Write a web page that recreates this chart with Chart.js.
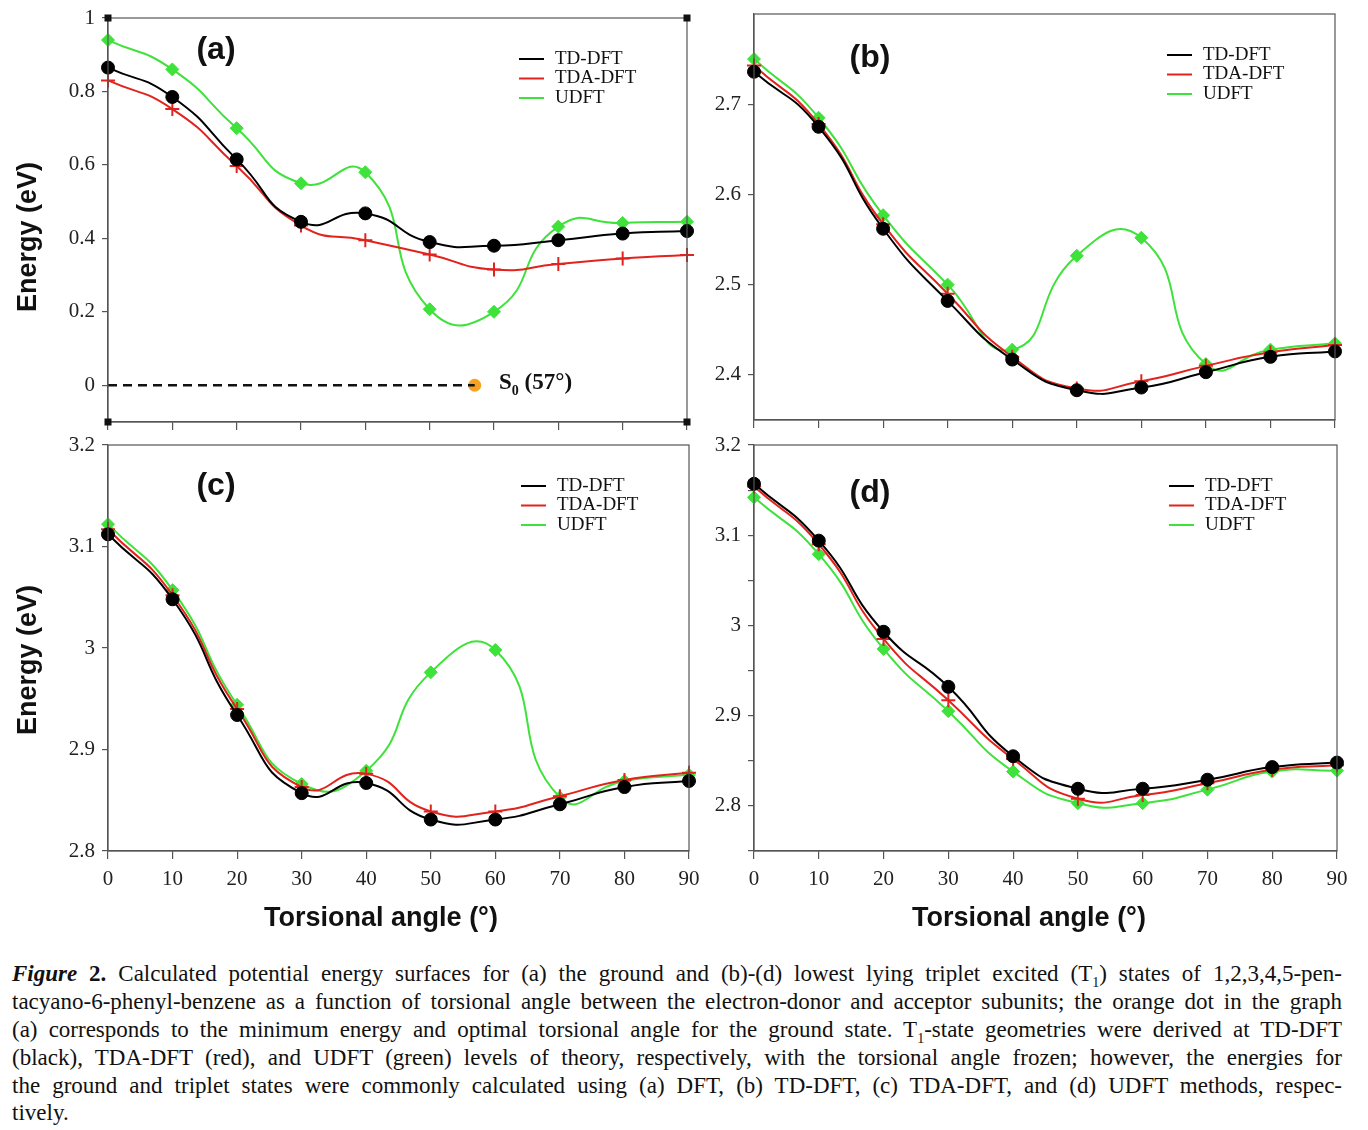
<!DOCTYPE html>
<html>
<head>
<meta charset="utf-8">
<script src="https://cdn.jsdelivr.net/npm/chart.js@4.4.1/dist/chart.umd.min.js"></script>
<style>
body{margin:0;background:#fff;width:1368px;height:1130px;position:relative;overflow:hidden}
canvas{position:absolute}
.t{position:absolute;font-family:"Liberation Sans",Arial,sans-serif;font-weight:bold;color:#111;white-space:nowrap;z-index:2}
.panel{font-size:32px;transform:translate(-50%,-50%)}
.ytitle{font-size:27px;transform:translate(-50%,-50%) rotate(-90deg)}
.xtitle{font-size:27px;transform:translate(-50%,-50%)}
.s0{position:absolute;left:499px;top:369px;font-family:"Liberation Serif","Times New Roman",serif;font-weight:bold;font-size:23px;color:#111;z-index:2}
.s0 sub{font-size:14px}
.cap{position:absolute;left:12px;width:1330px;font-family:"Liberation Serif","Times New Roman",serif;font-size:23px;line-height:28px;color:#111;text-align:justify;text-align-last:justify;white-space:nowrap}
.cap sub{font-size:14px;line-height:0}
</style>
</head>
<body>
<canvas id="ca" width="700" height="432" style="left:0;top:0"></canvas>
<canvas id="cb" width="668" height="432" style="left:700px;top:0"></canvas>
<canvas id="cc" width="700" height="510" style="left:0;top:432px"></canvas>
<canvas id="cd" width="668" height="510" style="left:700px;top:432px"></canvas>

<div class="t panel" style="left:216px;top:48px">(a)</div>
<div class="t panel" style="left:870px;top:56px">(b)</div>
<div class="t panel" style="left:216px;top:484px">(c)</div>
<div class="t panel" style="left:870px;top:491px">(d)</div>
<div class="t ytitle" style="left:27px;top:237px">Energy (eV)</div>
<div class="t ytitle" style="left:27px;top:660px">Energy (eV)</div>
<div class="t xtitle" style="left:381px;top:917px">Torsional angle (°)</div>
<div class="t xtitle" style="left:1029px;top:917px">Torsional angle (°)</div>
<div class="s0">S<sub>0</sub> (57°)</div>

<div class="cap" style="top:960px"><b><i>Figure</i> 2.</b> Calculated potential energy surfaces for (a) the ground and (b)-(d) lowest lying triplet excited (T<sub>1</sub>) states of 1,2,3,4,5-pen-</div>
<div class="cap" style="top:988px">tacyano-6-phenyl-benzene as a function of torsional angle between the electron-donor and acceptor subunits; the orange dot in the graph</div>
<div class="cap" style="top:1016px">(a) corresponds to the minimum energy and optimal torsional angle for the ground state. T<sub>1</sub>-state geometries were derived at TD-DFT</div>
<div class="cap" style="top:1044px">(black), TDA-DFT (red), and UDFT (green) levels of theory, respectively, with the torsional angle frozen; however, the energies for</div>
<div class="cap" style="top:1072px">the ground and triplet states were commonly calculated using (a) DFT, (b) TD-DFT, (c) TDA-DFT, and (d) UDFT methods, respec-</div>
<div class="cap" style="top:1099px;text-align-last:left">tively.</div>

<script>
// torsional angles (deg)
const angles = [0, 10, 20, 30, 40, 50, 60, 70, 80, 90];
const seriesNames = ['TD-DFT', 'TDA-DFT', 'UDFT'];

// (a) ground state, DFT
const aTD  = [0.865, 0.785, 0.615, 0.445, 0.468, 0.390, 0.380, 0.395, 0.413, 0.420];
const aTDA = [0.830, 0.752, 0.597, 0.435, 0.395, 0.356, 0.315, 0.330, 0.345, 0.355];
const aU   = [0.940, 0.860, 0.700, 0.550, 0.580, 0.207, 0.200, 0.432, 0.442, 0.445];
const groundAngle = [0, 57];
const groundEnergy = [0, 0];

// (b) TD-DFT
const bTD  = [2.736, 2.675, 2.562, 2.482, 2.417, 2.383, 2.386, 2.403, 2.420, 2.426];
const bTDA = [2.743, 2.678, 2.567, 2.490, 2.420, 2.385, 2.393, 2.410, 2.425, 2.433];
const bU   = [2.750, 2.685, 2.577, 2.500, 2.428, 2.532, 2.552, 2.412, 2.428, 2.435];

// (c) TDA-DFT
const cTD  = [3.112, 3.048, 2.934, 2.857, 2.867, 2.831, 2.831, 2.846, 2.863, 2.869];
const cTDA = [3.117, 3.052, 2.940, 2.863, 2.876, 2.839, 2.839, 2.854, 2.870, 2.877];
const cU   = [3.122, 3.057, 2.944, 2.866, 2.879, 2.976, 2.998, 2.853, 2.869, 2.875];

// (d) UDFT
const dTD  = [3.157, 3.094, 2.993, 2.932, 2.855, 2.819, 2.819, 2.829, 2.843, 2.848];
const dTDA = [3.154, 3.090, 2.985, 2.917, 2.852, 2.808, 2.812, 2.825, 2.840, 2.845];
const dU   = [3.142, 3.079, 2.974, 2.905, 2.838, 2.803, 2.803, 2.818, 2.838, 2.839];

// tick values
const xTicks = angles;
const yTicksA = [0, 0.2, 0.4, 0.6, 0.8, 1];
const yTicksB = [2.4, 2.5, 2.6, 2.7];
const yTicksC = [2.8, 2.9, 3, 3.1, 3.2];
const yTicksD = [2.8, 2.9, 3, 3.1, 3.2];
const yMinorD = [2.75, 2.85, 2.95, 3.05, 3.15];

const colors = ['#000000', '#e2231d', '#3ee23a'];
const AXIS = '#555555';

const xy = (xs, ys) => xs.map((x, i) => ({x: x, y: ys[i]}));

function series(vals) {
  const styles = [
    {pointStyle: 'circle', pointRadius: 6.5, pointBorderWidth: 1},
    {pointStyle: 'cross', pointRadius: 7, pointBorderWidth: 2},
    {pointStyle: 'rectRot', pointRadius: 6.5, pointBorderWidth: 1}
  ];
  return vals.map((v, i) => Object.assign({
    label: seriesNames[i],
    data: xy(angles, v),
    borderColor: colors[i],
    backgroundColor: colors[i],
    borderWidth: 2,
    tension: 0.55,
    clip: false
  }, styles[i]));
}

const framePlugin = {
  id: 'frame',
  afterDraw(chart, args, opts) {
    const ctx = chart.ctx, a = chart.chartArea;
    ctx.save();
    ctx.strokeStyle = AXIS;
    ctx.lineWidth = 1.2;
    ctx.strokeRect(a.left, a.top, a.right - a.left, a.bottom - a.top);
    if (opts.corners) {
      ctx.fillStyle = '#111';
      [[a.left, a.top], [a.right, a.top], [a.left, a.bottom], [a.right, a.bottom]].forEach(p => {
        ctx.fillRect(p[0] - 3.5, p[1] - 3.5, 7, 7);
      });
    }
    ctx.restore();
  }
};

const legendPlugin = {
  id: 'panelLegend',
  afterDatasetsDraw(chart, args, opts) {
    const ctx = chart.ctx, a = chart.chartArea;
    const x0 = a.right + opts.dx, y0 = a.top + opts.dy;
    ctx.save();
    ctx.font = '19px "Liberation Serif", serif';
    ctx.textBaseline = 'middle';
    chart.data.datasets.slice(0, 3).forEach((ds, i) => {
      const y = y0 + i * 19.5;
      ctx.strokeStyle = ds.borderColor;
      ctx.lineWidth = 2;
      ctx.beginPath(); ctx.moveTo(x0, y); ctx.lineTo(x0 + 25, y); ctx.stroke();
      ctx.fillStyle = '#111';
      ctx.fillText(ds.label, x0 + 36, y);
    });
    ctx.restore();
  }
};

const fmt = v => String(+v.toFixed(2));
const noPad = s => { s.paddingTop = 0; s.paddingBottom = 0; s.paddingLeft = 0; s.paddingRight = 0; };

function makePanel(id, p) {
  const yAll = p.yTicks.concat(p.yMinor || []).sort((m, n) => m - n);
  return new Chart(document.getElementById(id), {
    type: 'line',
    data: {datasets: p.datasets},
    plugins: [framePlugin, legendPlugin],
    options: {
      responsive: false,
      animation: false,
      devicePixelRatio: 1,
      layout: {padding: {top: p.top, right: p.right, left: 0, bottom: 0}},
      plugins: {
        legend: {display: false},
        tooltip: {enabled: false},
        frame: {corners: !!p.corners},
        panelLegend: {dx: -168, dy: 41}
      },
      scales: {
        x: {
          type: 'linear', min: 0, max: 90,
          afterBuildTicks: s => { s.ticks = xTicks.map(v => ({value: v})); },
          afterFit: s => { s.height = p.xHeight; noPad(s); },
          grid: {drawOnChartArea: false, drawTicks: true, tickLength: 8, color: AXIS, lineWidth: 1.2},
          border: {display: true, color: AXIS, width: 1.2},
          ticks: {
            display: p.xLabels, padding: 8, color: '#222', maxRotation: 0,
            font: {family: '"Liberation Serif", serif', size: 21},
            callback: v => fmt(v)
          }
        },
        y: {
          type: 'linear', min: p.yMin, max: p.yMax,
          afterBuildTicks: s => { s.ticks = yAll.map(v => ({value: v})); },
          afterFit: s => { s.width = p.yWidth; noPad(s); },
          grid: {drawOnChartArea: false, drawTicks: true, tickLength: 6, color: AXIS, lineWidth: 1.2},
          border: {display: true, color: AXIS, width: 1.2},
          ticks: {
            padding: 7, color: '#222',
            font: {family: '"Liberation Serif", serif', size: 21},
            callback: v => (p.yTicks.some(t => Math.abs(t - v) < 1e-9) ? fmt(v) : '')
          }
        }
      }
    }
  });
}

const groundSets = [
  {label: 'S0 line', data: xy(groundAngle, groundEnergy), borderColor: '#111', borderWidth: 2.5,
   borderDash: [9, 6], pointRadius: 0, tension: 0},
  {label: 'S0', data: xy(groundAngle.slice(1), groundEnergy.slice(1)), borderColor: '#f6a21e',
   backgroundColor: '#f6a21e', pointRadius: 6.5, pointBorderWidth: 0, showLine: false}
];

makePanel('ca', {datasets: series([aTD, aTDA, aU]).concat(groundSets), yMin: -0.1, yMax: 1,
  yTicks: yTicksA, top: 18, right: 13, xHeight: 10, yWidth: 108, xLabels: false, corners: true});
makePanel('cb', {datasets: series([bTD, bTDA, bU]), yMin: 2.35, yMax: 2.8,
  yTicks: yTicksB, top: 14, right: 33, xHeight: 12, yWidth: 54, xLabels: false});
makePanel('cc', {datasets: series([cTD, cTDA, cU]), yMin: 2.8, yMax: 3.2,
  yTicks: yTicksC, top: 13, right: 11, xHeight: 91, yWidth: 108, xLabels: true});
makePanel('cd', {datasets: series([dTD, dTDA, dU]), yMin: 2.75, yMax: 3.2,
  yTicks: yTicksD, yMinor: yMinorD, top: 13, right: 31, xHeight: 91, yWidth: 54, xLabels: true});
</script>
</body>
</html>
